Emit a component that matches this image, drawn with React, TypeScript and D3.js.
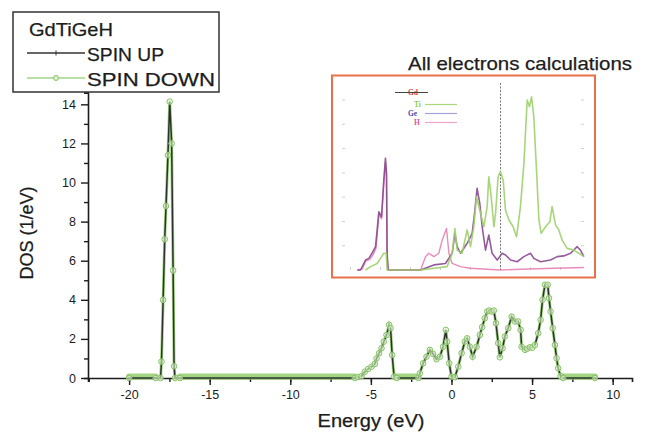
import React, { useEffect, useRef } from "react";
import * as d3 from "d3";

// main DOS curve (spin up and spin down coincide in the picture)
const energy = [
  -20, -18.35, -18.05, -17.99, -17.89, -17.79, -17.71, -17.59, -17.48, -17.36, -17.27, -17.21,
  -17.15, -16.85, -6.0, -5.8, -5.58, -5.38, -5.17, -4.96, -4.75, -4.65, -4.49, -4.34, -4.2,
  -4.03, -3.87, -3.78, -3.68, -3.56, -3.4, -2.05, -1.96, -1.76, -1.55, -1.34, -1.14, -0.93,
  -0.72, -0.52, -0.35, -0.27, -0.14, 0.0, 0.21, 0.42, 0.63, 0.83, 0.97, 1.14, 1.31, 1.56,
  1.76, 1.9, 2.07, 2.22, 2.34, 2.5, 2.63, 2.76, 2.9, 3.0, 3.17, 3.31, 3.52, 3.73, 3.94, 4.14,
  4.29, 4.35, 4.56, 4.7, 4.87, 5.02, 5.18, 5.38, 5.53, 5.65, 5.8, 5.97, 6.05, 6.15, 6.28,
  6.42, 6.52, 6.62, 6.77, 6.93, 8.9,
];
const dosUp = [
  0, 0, 0, 0.84, 4.0, 7.1, 8.8, 11.4, 14.14, 12.0, 5.5, 0.6,
  0, 0, 0, 0.05, 0.1, 0.32, 0.46, 0.58, 0.72, 1.0, 1.27, 1.52, 1.86,
  2.2, 2.72, 2.55, 1.18, 0.07, 0, 0, 0.24, 0.75, 1.09, 1.44, 1.23, 0.96,
  1.09, 1.6, 2.46, 1.86, 0.75, 0.07, 0.04, 0.58, 1.27, 1.86, 2.03, 1.6, 1.09, 1.6,
  2.2, 2.6, 3.06, 3.4, 3.45, 3.4, 3.45, 2.8, 1.78, 1.06, 1.52, 2.12, 2.55, 3.14, 2.89, 2.89,
  2.46, 1.6, 1.44, 1.5, 1.57, 1.55, 1.69, 2.29, 2.97, 4.0, 4.77, 4.77, 4.09, 3.4, 2.55,
  1.69, 1.01, 0.5, 0.1, 0, 0,
];
const dosDown = dosUp;

// stretches where the spin-down markers merge into a solid band on zero
const zeroBands = [
  [-20, -18.35],
  [-16.85, -6.0],
  [-3.4, -2.05],
  [6.93, 8.9],
];

const xTicks = [-20, -15, -10, -5, 0, 5, 10];
const yTicks = [0, 2, 4, 6, 8, 10, 12, 14];

// inset: partial DOS, all electrons calculation
const insetTiE = [
  -9, -8.67, -8.22, -8, -7.78, -7.62, -7.56, -5.33, -3.56, -3.22, -3.04, -2.89, -2.56, -2.22,
  -2, -1.78, -1.6, -1.33, -1.11, -0.89, -0.78, -0.62, -0.44, -0.33, -0.16, 0, 0.18, 0.33,
  0.56, 0.84, 1.07, 1.33, 1.56, 1.78, 1.93, 2.07, 2.22, 2.4, 2.56, 2.71, 3.0, 3.29, 3.44,
  3.67, 3.89, 4.11, 4.44, 4.89, 5.22, 5.56,
];
const insetTi = [
  0, 0.14, 0.27, 0.48, 0.69, 0.69, 0, 0, 0.14, 0.69, 1.71, 0.82, 0.69, 1.65,
  0.96, 1.78, 3.02, 2.33, 1.78, 2.61, 3.84, 3.02, 1.78, 2.33, 3.84, 4.05, 3.7, 2.47,
  2.06, 1.78, 1.37, 2.61, 4.39, 7.0, 6.72, 7.13, 6.31, 4.12, 2.06, 1.51, 1.78, 1.99, 2.61,
  1.85, 1.65, 1.23, 0.89, 0.82, 0.69, 0.55,
];
const insetGeE = [
  -9.56, -9.33, -9.0, -8.78, -8.56, -8.33, -8.11, -7.93, -7.78, -7.67, -7.6, -7.56, -7.49,
  -5.33, -4.44, -3.67, -3.22, -3.04, -2.89, -2.67, -2.22, -1.89, -1.73, -1.56, -1.38, -1.22,
  -1.0, -0.78, -0.56, -0.22, 0.11, 0.33, 0.67, 1.11, 1.56, 2.0, 2.22, 2.67, 3.33, 3.78,
  4.22, 4.67, 5.11, 5.33, 5.56,
];
const insetGe = [
  0, 0, 0.41, 0.48, 0.69, 0.96, 2.4, 2.19, 3.7, 4.6, 3.98, 0.69, 0,
  0, 0.21, 0.27, 0.69, 1.51, 0.96, 0.69, 1.1, 1.51, 2.33, 3.36, 2.74, 1.78,
  0.82, 1.44, 0.69, 0.41, 0.69, 0.62, 0.41, 0.34, 0.55, 0.69, 0.48, 0.34, 0.41, 0.55,
  0.58, 0.69, 0.96, 0.82, 0.55,
];
const insetHE = [
  -9.5, -9.2, -9.0, -8.7, -8.5, -8.3, -8.1, -7.93, -7.78, -7.67, -7.6, -7.56, -7.5,
  -5.78, -5.33, -5.0, -4.78, -4.44, -4.11, -3.89, -3.6, -3.44, -3.22, -2.67, -2.0, -0.89,
  0, 1.33, 3.56, 5.56,
];
const insetH = [
  0, 0.05, 0.35, 0.45, 0.62, 0.9, 2.3, 2.1, 3.55, 4.45, 3.85, 0.6, 0,
  0, 0, 0.55, 0.69, 0.55, 0.69, 1.23, 1.71, 0.69, 0.27, 0.14, 0.07, 0.03,
  0, 0.03, 0.07, 0.1,
];
const insetLegend = ["Gd", "Ti", "Ge", "H"];

const green = "#a3d585";
const greenDark = "#86c266";
const ink = "#1c1c1c";
const font = "'Liberation Sans', Arial, sans-serif";

const App = () => {
  const svgRef = useRef<SVGSVGElement>(null);
  const width = 649;
  const height = 433;

  useEffect(() => {
    const svg = d3.select(svgRef.current);
    svg.selectAll("*").remove();

    const x = d3.scaleLinear().domain([-22.55, 11.2]).range([88, 632]);
    const y = d3.scaleLinear().domain([0, 14.6]).range([378, 92.6]);

    const pts = energy.map((e, i) => ({ e, up: dosUp[i], down: dosDown[i] }));

    const label = (
      txt: string,
      px: number,
      py: number,
      size: number,
      len?: number,
      anchor = "start",
      transform?: string
    ) => {
      const t = svg
        .append("text")
        .attr("font-family", font)
        .attr("font-size", size)
        .attr("fill", ink)
        .attr("text-anchor", anchor)
        .attr("stroke", ink)
        .attr("stroke-width", 0.25)
        .text(txt);
      if (transform) t.attr("transform", transform);
      else t.attr("x", px).attr("y", py);
      if (len) t.attr("textLength", len).attr("lengthAdjust", "spacingAndGlyphs");
      return t;
    };

    // zero bands
    svg
      .append("g")
      .selectAll("line")
      .data(zeroBands)
      .join("line")
      .attr("x1", (d) => x(d[0]))
      .attr("x2", (d) => x(d[1]))
      .attr("y1", y(0) - 1.5)
      .attr("y2", y(0) - 1.5)
      .attr("stroke", green)
      .attr("stroke-width", 6)
      .attr("stroke-linecap", "round");

    // axes
    const xAxis = svg.append("g").attr("transform", `translate(0,${y(0)})`);
    xAxis
      .call(
        d3
          .axisBottom(x)
          .tickValues(d3.range(-22.5, 11.2, 2.5))
          .tickSize(4)
          .tickFormat(() => "")
      )
      .call((g) => g.select(".domain").attr("stroke", ink).attr("stroke-width", 1.6));
    xAxis
      .append("g")
      .call(d3.axisBottom(x).tickValues(xTicks).tickSize(7).tickPadding(5).tickFormat(d3.format("d")))
      .call((g) => g.select(".domain").remove())
      .call((g) =>
        g
          .selectAll("text")
          .attr("font-family", font)
          .attr("font-size", 12.5)
          .attr("fill", ink)
          .text((d: any) => (d < 0 ? "-" + Math.abs(d) : String(d)))
      );
    xAxis.selectAll("line").attr("stroke", ink).attr("stroke-width", 1.4);

    const yAxis = svg.append("g").attr("transform", `translate(${x(-22.55)},0)`);
    yAxis
      .call(d3.axisLeft(y).tickValues(d3.range(1, 15, 2)).tickSize(4).tickFormat(() => ""))
      .call((g) => g.select(".domain").attr("stroke", ink).attr("stroke-width", 1.6));
    yAxis
      .append("g")
      .call(d3.axisLeft(y).tickValues(yTicks).tickSize(7).tickPadding(5))
      .call((g) => g.select(".domain").remove())
      .call((g) =>
        g.selectAll("text").attr("font-family", font).attr("font-size", 12.5).attr("fill", ink)
      );
    yAxis.selectAll("line").attr("stroke", ink).attr("stroke-width", 1.4);

    // lines
    const lineDown = d3
      .line<any>()
      .x((d) => x(d.e))
      .y((d) => y(d.down));
    const lineUp = d3
      .line<any>()
      .x((d) => x(d.e))
      .y((d) => y(d.up));

    svg
      .append("path")
      .datum(pts)
      .attr("d", lineDown)
      .attr("fill", "none")
      .attr("stroke", green)
      .attr("stroke-width", 3);
    svg
      .append("path")
      .datum(pts)
      .attr("d", lineUp)
      .attr("fill", "none")
      .attr("stroke", "#2b332b")
      .attr("stroke-width", 1.5);

    svg
      .append("g")
      .selectAll("circle")
      .data(pts)
      .join("circle")
      .attr("cx", (d) => x(d.e))
      .attr("cy", (d) => y(d.down))
      .attr("r", 2.8)
      .attr("fill", "#dcefcf")
      .attr("fill-opacity", 0.6)
      .attr("stroke", greenDark)
      .attr("stroke-width", 1);

    // axis titles
    label("Energy (eV)", 371, 427, 18, 107, "middle");
    label("DOS (1/eV)", 0, 0, 18, 93, "middle", "translate(33,233) rotate(-90)");

    // legend
    svg
      .append("rect")
      .attr("x", 13)
      .attr("y", 12)
      .attr("width", 206)
      .attr("height", 80)
      .attr("fill", "#fff")
      .attr("stroke", "#333")
      .attr("stroke-width", 1.5);
    label("GdTiGeH", 29, 36, 19, 84);
    svg
      .append("line")
      .attr("x1", 27)
      .attr("x2", 85)
      .attr("y1", 53)
      .attr("y2", 53)
      .attr("stroke", "#333")
      .attr("stroke-width", 1.5);
    svg
      .append("line")
      .attr("x1", 56)
      .attr("x2", 56)
      .attr("y1", 50.5)
      .attr("y2", 55.5)
      .attr("stroke", "#333")
      .attr("stroke-width", 1);
    label("SPIN UP", 87, 61, 19, 77);
    svg
      .append("line")
      .attr("x1", 27)
      .attr("x2", 85)
      .attr("y1", 78)
      .attr("y2", 78)
      .attr("stroke", green)
      .attr("stroke-width", 1.5);
    svg
      .append("circle")
      .attr("cx", 56)
      .attr("cy", 78)
      .attr("r", 2.5)
      .attr("fill", "#dcefcf")
      .attr("stroke", greenDark);
    label("SPIN DOWN", 87, 86, 19, 128);

    // inset
    label("All electrons calculations", 408, 70, 18.5, 224);

    const ins = svg.append("g");
    ins
      .append("rect")
      .attr("x", 332)
      .attr("y", 75.5)
      .attr("width", 263)
      .attr("height", 202)
      .attr("fill", "#fff")
      .attr("stroke", "#e8714c")
      .attr("stroke-width", 2);

    const ix = d3.scaleLinear().domain([-10.5, 5.5]).range([343, 583]);
    const iy = d3.scaleLinear().domain([0, 7.7]).range([270, 83]);

    // faint frame ticks
    const faint = "#cfcfcf";
    ins
      .append("g")
      .selectAll("line")
      .data(d3.range(1, 8))
      .join("line")
      .attr("x1", 342)
      .attr("x2", 345)
      .attr("y1", (d) => iy(d))
      .attr("y2", (d) => iy(d))
      .attr("stroke", faint);
    ins
      .append("g")
      .selectAll("line")
      .data(d3.range(1, 8))
      .join("line")
      .attr("x1", 581)
      .attr("x2", 584)
      .attr("y1", (d) => iy(d))
      .attr("y2", (d) => iy(d))
      .attr("stroke", faint);
    ins
      .append("g")
      .selectAll("line")
      .data(d3.range(-10, 6, 2))
      .join("line")
      .attr("x1", (d) => ix(d))
      .attr("x2", (d) => ix(d))
      .attr("y1", iy(0))
      .attr("y2", iy(0) - 3)
      .attr("stroke", faint);

    // Fermi level
    ins
      .append("line")
      .attr("x1", ix(0))
      .attr("x2", ix(0))
      .attr("y1", 83)
      .attr("y2", iy(0))
      .attr("stroke", "#777")
      .attr("stroke-width", 1)
      .attr("stroke-dasharray", "2,1.5");

    const iline = (es: number[], vs: number[], color: string, w: number) => {
      const l = d3
        .line<number>()
        .x((d, i) => ix(es[i]))
        .y((d) => iy(d));
      ins
        .append("path")
        .datum(vs)
        .attr("d", l)
        .attr("fill", "none")
        .attr("stroke", color)
        .attr("stroke-width", w)
        .attr("stroke-linejoin", "round")
        .attr("stroke-opacity", 0.9);
    };
    iline(insetHE, insetH, "#e77fb3", 1.4);
    iline(insetGeE, insetGe, "#8a4a90", 1.6);
    iline(insetTiE, insetTi, "#9fd06a", 1.6);

    // inset legend
    const legColors = ["#d9453a", "#8fcc55", "#4c4ca8", "#d9569a"];
    const legLines = ["#333", "#a8d87a", "#a3a3dc", "#f0a3c8"];
    const legY = [95, 107, 116, 125];
    const legX = [408, 414, 408, 414];
    insetLegend.forEach((name, i) => {
      if (i > 0) {
        ins
          .append("line")
          .attr("x1", 425)
          .attr("x2", 457)
          .attr("y1", legY[i] - 2.5)
          .attr("y2", legY[i] - 2.5)
          .attr("stroke", legLines[i])
          .attr("stroke-width", 1.2);
      }
      ins
        .append("text")
        .attr("x", legX[i])
        .attr("y", legY[i])
        .attr("font-family", "'Liberation Serif', serif")
        .attr("font-weight", "bold")
        .attr("font-size", 7.5)
        .attr("fill", legColors[i])
        .text(name);
    });
    ins
      .append("line")
      .attr("x1", 395)
      .attr("x2", 428)
      .attr("y1", 92.5)
      .attr("y2", 92.5)
      .attr("stroke", "#444")
      .attr("stroke-width", 1);
  }, []);

  return (
    <svg
      ref={svgRef}
      width={width}
      height={height}
      style={{ position: "absolute", left: 0, top: 0, background: "#fff" }}
    />
  );
};

export default App;
